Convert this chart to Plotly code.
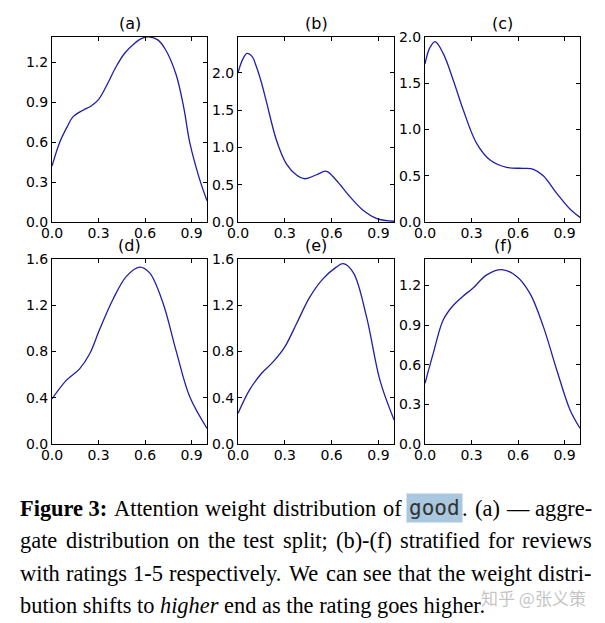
import plotly.graph_objects as go

W, H = 605, 623

# ---------------- data ----------------
panel_labels = ["(a)", "(b)", "(c)", "(d)", "(e)", "(f)"]

x_a = [0.0, 0.05, 0.10, 0.135, 0.20, 0.25, 0.30, 0.35, 0.415, 0.47, 0.53, 0.58, 0.63, 0.68, 0.73, 0.80, 0.85, 0.89, 0.95, 1.0]
y_a = [0.42, 0.60, 0.72, 0.79, 0.84, 0.87, 0.92, 1.02, 1.17, 1.27, 1.34, 1.38, 1.39, 1.37, 1.30, 1.11, 0.86, 0.59, 0.33, 0.16]

x_b = [0.0, 0.03, 0.058, 0.09, 0.118, 0.15, 0.18, 0.246, 0.31, 0.375, 0.43, 0.50, 0.567, 0.63, 0.717, 0.80, 0.89, 1.0]
y_b = [2.0, 2.18, 2.26, 2.22, 2.08, 1.87, 1.63, 1.10, 0.78, 0.63, 0.58, 0.63, 0.68, 0.56, 0.34, 0.16, 0.045, 0.01]

x_c = [0.0, 0.03, 0.065, 0.118, 0.183, 0.247, 0.333, 0.42, 0.527, 0.634, 0.70, 0.763, 0.85, 0.935, 1.0]
y_c = [1.71, 1.88, 1.95, 1.82, 1.53, 1.21, 0.85, 0.67, 0.59, 0.58, 0.57, 0.50, 0.31, 0.14, 0.05]

x_d = [0.0, 0.092, 0.178, 0.243, 0.307, 0.393, 0.48, 0.566, 0.63, 0.716, 0.80, 0.888, 1.0]
y_d = [0.39, 0.55, 0.65, 0.78, 0.99, 1.25, 1.45, 1.53, 1.48, 1.22, 0.81, 0.41, 0.135]

x_e = [0.0, 0.075, 0.15, 0.225, 0.30, 0.375, 0.46, 0.546, 0.63, 0.675, 0.74, 0.824, 0.91, 1.0]
y_e = [0.265, 0.47, 0.61, 0.71, 0.84, 1.04, 1.27, 1.43, 1.53, 1.56, 1.48, 1.10, 0.55, 0.21]

x_f = [0.0, 0.054, 0.118, 0.183, 0.247, 0.31, 0.398, 0.495, 0.59, 0.677, 0.763, 0.85, 0.935, 1.0]
y_f = [0.46, 0.69, 0.94, 1.05, 1.12, 1.18, 1.28, 1.32, 1.27, 1.14, 0.89, 0.56, 0.26, 0.12]

x_ticks = [0.0, 0.3, 0.6, 0.9]
x_tick_text = ["0.0", "0.3", "0.6", "0.9"]
y_ticks_a = [0.0, 0.3, 0.6, 0.9, 1.2]
y_ticks_b = [0.0, 0.5, 1.0, 1.5, 2.0]
y_ticks_c = [0.0, 0.5, 1.0, 1.5, 2.0]
y_ticks_d = [0.0, 0.4, 0.8, 1.2, 1.6]
y_ticks_e = [0.0, 0.4, 0.8, 1.2, 1.6]
y_ticks_f = [0.0, 0.3, 0.6, 0.9, 1.2]
y_max = [1.39, 2.48, 2.0, 1.6, 1.6, 1.40]

# caption text (justified lines 1-3, ragged last line)
caption_line1 = ["Figure 3:", "Attention", "weight", "distribution", "of", "good.", "(a)", "—", "aggre-"]
caption_line2 = ["gate", "distribution", "on", "the", "test", "split;", "(b)-(f)", "stratified", "for", "reviews"]
caption_line3 = ["with", "ratings", "1-5", "respectively.", "We", "can", "see", "that", "the", "weight", "distri-"]
caption_line4 = "bution shifts to <i>higher</i> end as the rating goes higher."
watermark = "知乎 @张义策"

xs = [x_a, x_b, x_c, x_d, x_e, x_f]
ys = [y_a, y_b, y_c, y_d, y_e, y_f]
yticks = [y_ticks_a, y_ticks_b, y_ticks_c, y_ticks_d, y_ticks_e, y_ticks_f]

# ---------------- layout (pixels) ----------------
col_px = [(52, 207), (238, 394), (425, 580)]
row_px = [(37, 222), (259, 444)]

fig = go.Figure()
layout = dict(
    width=W, height=H, margin=dict(l=0, r=0, t=0, b=0, autoexpand=False),
    paper_bgcolor="white", plot_bgcolor="white", showlegend=False,
    annotations=[],
)

tickfont = dict(family="DejaVu Sans", size=14, color="black")

for i in range(6):
    r, c = divmod(i, 3)
    x0, x1 = col_px[c]
    y0, y1 = row_px[r]
    xa = "xaxis" if i == 0 else f"xaxis{i+1}"
    ya = "yaxis" if i == 0 else f"yaxis{i+1}"
    xr = "x" if i == 0 else f"x{i+1}"
    yr = "y" if i == 0 else f"y{i+1}"
    fig.add_trace(go.Scatter(
        x=xs[i], y=ys[i], mode="lines", xaxis=xr, yaxis=yr,
        line=dict(color="#1f1fa6", width=1.3, shape="spline", smoothing=1.0),
        hoverinfo="skip",
    ))
    layout[xa] = dict(
        domain=[x0 / W, x1 / W], anchor=yr, range=[0, 1.0],
        tickvals=x_ticks, ticktext=x_tick_text, automargin=False,
        ticks="inside", ticklen=4, tickcolor="black", tickwidth=1,
        ticklabelstandoff=-2,
        showline=True, linecolor="black", linewidth=1, mirror="ticks",
        showgrid=False, zeroline=False, tickfont=tickfont,
    )
    layout[ya] = dict(
        domain=[1 - y1 / H, 1 - y0 / H], anchor=xr, range=[0, y_max[i]],
        tickvals=yticks[i], ticktext=[f"{v:.1f}" for v in yticks[i]], automargin=False,
        ticks="inside", ticklen=4, tickcolor="black", tickwidth=1,
        showline=True, linecolor="black", linewidth=1, mirror="ticks",
        showgrid=False, zeroline=False, tickfont=tickfont,
    )
    layout["annotations"].append(dict(
        text=panel_labels[i], xref="paper", yref="paper",
        x=(x0 + x1) / 2 / W, y=1 - (y0 - 2) / H, xanchor="center", yanchor="bottom",
        showarrow=False, font=dict(family="DejaVu Sans", size=16, color="black"),
    ))

# ---------------- caption (justified by Times-metric widths) ----------------
FS = 22.4
MONO_FS = 21
PAD = 2
cap_font = dict(family="Liberation Serif", size=FS, color="black")
line_y = [508, 540.5, 573, 605.5]
L, R = 18, 590

REG = {"A": .722, "W": .944, "a": .444, "b": .5, "c": .444, "d": .5, "e": .444, "f": .333,
       "g": .5, "h": .5, "i": .278, "l": .278, "n": .5, "o": .5, "p": .5, "r": .333,
       "s": .389, "t": .278, "u": .5, "v": .5, "w": .722, "y": .5, "1": .5, "5": .5,
       "-": .333, "(": .333, ")": .333, ".": .25, ";": .278, ":": .278, "—": 1.0, " ": .25}
BOLD = {"F": .611, "i": .278, "g": .5, "u": .556, "r": .444, "e": .444, " ": .25, "3": .5, ":": .333}


def tw(s, table=REG):
    return sum(table.get(ch, 0.5) for ch in s) * FS


def ann(text, xpx, ypx, anchor, font=cap_font, **kw):
    d = dict(text=text, xref="paper", yref="paper", x=xpx / W, y=1 - ypx / H,
             xanchor=anchor, yanchor="middle", showarrow=False, font=font)
    d.update(kw)
    layout["annotations"].append(d)


good_w = 4 * 0.602 * MONO_FS + 2 * PAD


def unit_width(word):
    if word == "Figure 3:":
        return tw(word, BOLD)
    if word == "good.":
        return good_w + tw(".")
    return tw(word)


def justify(words, ypx):
    widths = [unit_width(w) for w in words]
    gap = (R - L - sum(widths)) / (len(words) - 1)
    x = L
    for w, wd in zip(words, widths):
        if w == "Figure 3:":
            ann("<b>Figure 3:</b>", x, ypx, "left")
        elif w == "good.":
            ann("good", x, ypx, "left",
                font=dict(family="DejaVu Sans Mono", size=MONO_FS, color="#333333"),
                bgcolor="#a9c7de", borderpad=PAD)
            ann(".", x + good_w, ypx, "left")
        else:
            ann(w, x, ypx, "left")
        x += wd + gap


justify(caption_line1, line_y[0])
justify(caption_line2, line_y[1])
justify(caption_line3, line_y[2])
ann(caption_line4, L, line_y[3], "left")

# watermark
ann(watermark, 588, 597, "right",
    font=dict(family="Noto Sans CJK SC", size=17, color="rgba(175,175,175,0.75)"))

fig.update_layout(**layout)
fig.write_html("out.html", config={"displayModeBar": False},
               post_script="document.body.style.margin='0px';document.body.style.padding='0px';")
